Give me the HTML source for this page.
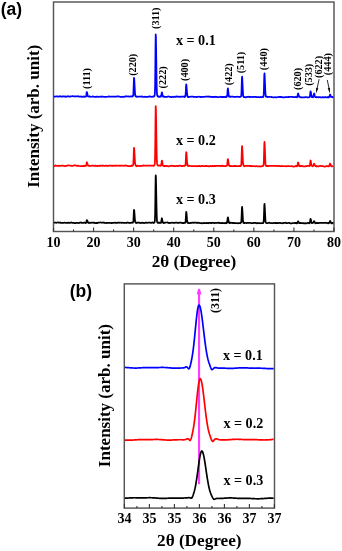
<!DOCTYPE html>
<html><head><meta charset="utf-8"><style>
html,body{margin:0;padding:0;background:#fff;}
body{width:342px;height:551px;overflow:hidden;}
svg{display:block;will-change:transform;}
text{font-family:"Liberation Serif",serif;font-weight:bold;fill:#000;}
.pan{font-family:"Liberation Sans",sans-serif;font-size:17.5px;}
.tk{font-size:14px;}
.ttl{font-size:17.2px;}
.xl{font-size:14.1px;}
</style></head><body>
<svg width="342" height="551" viewBox="0 0 342 551">
<rect width="342" height="551" fill="#fff"/>
<text x="0.7" y="14.5" class="pan">(a)</text>
<text x="69.8" y="297.2" class="pan">(b)</text>
<rect x="53.5" y="2.0" width="280.5" height="229.5" fill="none" stroke="#555" stroke-width="1.45"/>
<path d="M53.5,231.5 v-4 M73.53,231.5 v-2 M93.57,231.5 v-4 M113.6,231.5 v-2 M133.64,231.5 v-4 M153.68,231.5 v-2 M173.71,231.5 v-4 M193.74,231.5 v-2 M213.78,231.5 v-4 M233.81,231.5 v-2 M253.85,231.5 v-4 M273.88,231.5 v-2 M293.92,231.5 v-4 M313.95,231.5 v-2 M333.99,231.5 v-4" stroke="#333" stroke-width="1.1" fill="none"/>
<text x="53.5" y="246.8" class="tk" text-anchor="middle">10</text>
<text x="93.57" y="246.8" class="tk" text-anchor="middle">20</text>
<text x="133.64" y="246.8" class="tk" text-anchor="middle">30</text>
<text x="173.71" y="246.8" class="tk" text-anchor="middle">40</text>
<text x="213.78" y="246.8" class="tk" text-anchor="middle">50</text>
<text x="253.85" y="246.8" class="tk" text-anchor="middle">60</text>
<text x="293.92" y="246.8" class="tk" text-anchor="middle">70</text>
<text x="333.99" y="246.8" class="tk" text-anchor="middle">80</text>
<text x="193.9" y="267.1" class="ttl" text-anchor="middle">2θ (Degree)</text>
<text transform="translate(39.35,116.3) rotate(-90)" class="ttl" style="font-size:17px" text-anchor="middle">Intensity (arb. unit)</text>
<path d="M53.8,96.3 L54.5,96.59 L55.2,96.69 L55.9,96.47 L56.6,96.48 L57.3,96.47 L58,96.57 L58.7,96.7 L59.4,96.39 L60.1,96.19 L60.8,96.54 L61.5,96.49 L62.2,96.65 L62.9,96.31 L63.6,96.39 L64.3,96.58 L65,96.41 L65.7,96.71 L66.4,96.84 L67.1,96.43 L67.8,96.22 L68.5,96.4 L69.2,96.71 L69.9,96.56 L70.6,96.4 L71.3,96.43 L72,96.23 L72.7,96.23 L73.4,96.36 L74.1,96.45 L74.8,96.36 L75.5,96.31 L76.2,96.28 L76.9,96.4 L77.6,96.36 L78.3,96.2 L79,96.57 L79.7,96.6 L80.4,96.66 L81.1,96.44 L81.8,96.77 L82.5,96.87 L83.2,96.51 L83.9,96.44 L84.1,96.62 L84.3,96.7 L84.5,96.87 L84.7,96.67 L84.9,96.79 L85.1,96.75 L85.3,96.53 L85.5,96.57 L85.7,96.73 L85.9,96.71 L86.1,96.27 L86.3,95.43 L86.5,93.69 L86.7,92.19 L86.9,92.05 L87.1,92.61 L87.3,93.34 L87.5,94.43 L87.7,95.5 L87.9,96.21 L88.1,96.38 L88.3,96.46 L88.5,96.52 L88.7,96.69 L88.9,96.64 L89.1,96.54 L89.3,96.55 L89.5,96.3 L89.7,96.19 L89.9,96.49 L90.6,96.81 L91.3,96.75 L92,96.61 L92.7,96.42 L93.4,96.51 L94.1,96.82 L94.8,96.86 L95.5,96.75 L96.2,96.88 L96.9,96.6 L97.6,96.61 L98.3,96.86 L99,96.78 L99.7,96.67 L100.4,96.52 L101.1,96.59 L101.8,96.86 L102.5,96.47 L103.2,96.7 L103.9,96.84 L104.6,96.95 L105.3,96.92 L106,96.95 L106.7,96.8 L107.4,96.75 L108.1,96.65 L108.8,96.4 L109.5,96.72 L110.2,96.72 L110.9,96.52 L111.6,96.58 L112.3,96.61 L113,96.55 L113.7,96.51 L114.4,96.6 L115.1,96.7 L115.8,96.74 L116.5,96.67 L117.2,96.41 L117.9,96.38 L118.6,96.34 L119.3,96.55 L120,96.8 L120.7,96.9 L121.4,96.95 L122.1,96.98 L122.8,96.69 L123.5,96.87 L124.2,96.86 L124.9,96.54 L125.6,96.34 L126.3,96.24 L127,96.59 L127.7,96.49 L128.4,96.37 L129.1,96.58 L129.8,96.53 L130.5,96.35 L131.2,96.29 L131.4,96.47 L131.6,96.35 L131.8,96.34 L132,96.57 L132.2,96.53 L132.4,96.41 L132.6,96.41 L132.8,96.11 L133,96 L133.2,95.38 L133.4,93.14 L133.6,88.32 L133.8,82.18 L134,77.8 L134.2,78.44 L134.4,82.04 L134.6,86.09 L134.8,89.83 L135,93.04 L135.2,94.98 L135.4,96.09 L135.6,96.19 L135.8,96.5 L136,96.64 L136.2,96.65 L136.4,96.48 L136.6,96.82 L136.8,96.89 L137,96.78 L137.2,96.56 L137.9,96.71 L138.6,96.64 L139.3,96.71 L140,96.61 L140.7,96.73 L141.4,96.47 L142.1,96.48 L142.8,96.85 L143.5,96.99 L144.2,96.74 L144.9,96.92 L145.6,96.71 L146.3,96.95 L147,96.96 L147.7,96.79 L148.4,96.61 L149.1,96.38 L149.8,96.74 L150.5,96.45 L151.2,96.72 L151.9,96.92 L152.6,96.76 L153.3,96.39 L153.5,96.6 L153.7,96.72 L153.9,96.58 L154.1,96.34 L154.3,96.05 L154.5,95.71 L154.7,94.95 L154.9,92.91 L155.1,85.85 L155.3,70.16 L155.5,48.58 L155.7,34.48 L155.9,37.07 L156.1,48.54 L156.3,61.21 L156.5,74.92 L156.7,86.18 L156.9,92.22 L157.1,94.73 L157.3,95.58 L157.5,96.24 L157.7,96.46 L157.9,96.36 L158.1,96.26 L158.3,96.48 L158.5,96.7 L158.7,96.87 L158.9,96.64 L159.1,96.83 L159.3,96.83 L159.5,96.72 L159.7,96.94 L159.9,96.64 L160.1,96.76 L160.3,96.47 L160.5,96.37 L160.7,96.7 L160.9,96.42 L161.1,96.34 L161.3,95.59 L161.5,94.37 L161.7,92.79 L161.9,92.28 L162.1,92.8 L162.3,93.93 L162.5,94.86 L162.7,95.94 L162.9,96.61 L163.1,96.53 L163.3,96.67 L163.5,96.48 L163.7,96.35 L163.9,96.3 L164.1,96.72 L164.3,96.88 L164.5,96.99 L164.7,96.78 L164.9,96.83 L165.6,96.95 L166.3,96.79 L167,96.82 L167.7,96.64 L168.4,96.48 L169.1,96.5 L169.8,96.86 L170.5,96.85 L171.2,97.05 L171.9,96.9 L172.6,96.72 L173.3,96.91 L174,97.03 L174.7,96.65 L175.4,96.82 L176.1,96.58 L176.8,96.48 L177.5,96.85 L178.2,96.57 L178.9,96.55 L179.6,96.94 L180.3,96.83 L181,96.6 L181.7,96.52 L182.4,96.51 L183.1,96.78 L183.8,96.55 L184,96.88 L184.2,96.74 L184.4,96.99 L184.6,97.07 L184.8,96.75 L185,96.53 L185.2,96.44 L185.4,95.81 L185.6,94.62 L185.8,91.28 L186,86.86 L186.2,84.47 L186.4,84.86 L186.6,87.23 L186.8,89.74 L187,92.33 L187.2,94.37 L187.4,96.03 L187.6,96.77 L187.8,97.05 L188,96.69 L188.2,96.57 L188.4,96.73 L188.6,97.02 L188.8,96.93 L189,96.97 L189.2,96.97 L189.4,96.76 L190.1,96.82 L190.8,96.72 L191.5,96.64 L192.2,96.51 L192.9,96.55 L193.6,96.97 L194.3,96.88 L195,96.95 L195.7,96.98 L196.4,97.16 L197.1,96.95 L197.8,96.8 L198.5,96.73 L199.2,96.7 L199.9,96.97 L200.6,97.13 L201.3,96.89 L202,96.79 L202.7,96.85 L203.4,96.91 L204.1,96.94 L204.8,96.77 L205.5,96.56 L206.2,96.58 L206.9,96.5 L207.6,96.72 L208.3,96.57 L209,96.49 L209.7,96.77 L210.4,96.71 L211.1,96.96 L211.8,96.92 L212.5,97.11 L213.2,96.81 L213.9,96.86 L214.6,97.04 L215.3,96.74 L216,97.07 L216.7,96.81 L217.4,97.01 L218.1,97.23 L218.8,97.24 L219.5,96.98 L220.2,96.73 L220.9,96.83 L221.6,97.1 L222.3,96.89 L223,97.12 L223.7,96.82 L224.4,97.09 L225.1,96.73 L225.3,96.71 L225.5,97.02 L225.7,97.11 L225.9,97.21 L226.1,97.22 L226.3,97.16 L226.5,97.08 L226.7,96.73 L226.9,96.56 L227.1,95.86 L227.3,94.64 L227.5,92.16 L227.7,89.35 L227.9,88.39 L228.1,89.92 L228.3,91.65 L228.5,93.31 L228.7,94.93 L228.9,96.25 L229.1,96.67 L229.3,96.76 L229.5,96.74 L229.7,96.68 L229.9,96.52 L230.1,96.79 L230.3,96.8 L230.5,96.89 L230.7,96.66 L230.9,96.71 L231.6,96.62 L232.3,96.57 L233,96.62 L233.7,96.96 L234.4,96.89 L235.1,96.86 L235.8,96.96 L236.5,96.8 L237.2,96.59 L237.9,96.77 L238.6,96.84 L239.3,96.94 L239.5,96.87 L239.7,96.97 L239.9,97.03 L240.1,96.78 L240.3,96.77 L240.5,96.74 L240.7,96.54 L240.9,96.45 L241.1,96.17 L241.3,95.09 L241.5,91.68 L241.7,85.11 L241.9,78.75 L242.1,76.57 L242.3,79.2 L242.5,83.33 L242.7,87.88 L242.9,91.73 L243.1,94.79 L243.3,96.34 L243.5,96.59 L243.7,96.84 L243.9,97.03 L244.1,96.88 L244.3,96.99 L244.5,97.07 L244.7,97.04 L244.9,97.17 L245.1,97.26 L245.8,97.37 L246.5,97.2 L247.2,96.91 L247.9,96.8 L248.6,96.73 L249.3,96.89 L250,97.08 L250.7,96.79 L251.4,96.99 L252.1,97.11 L252.8,96.96 L253.5,96.99 L254.2,96.8 L254.9,97.03 L255.6,96.76 L256.3,97.14 L257,97.24 L257.7,97.19 L258.4,96.96 L259.1,97.2 L259.8,97.34 L260.5,96.96 L261.2,97.1 L261.9,97.19 L262.1,97.13 L262.3,97.11 L262.5,96.95 L262.7,97.11 L262.9,97.18 L263.1,96.85 L263.3,96.8 L263.5,96.2 L263.7,94.41 L263.9,90.18 L264.1,82.6 L264.3,75.36 L264.5,73.34 L264.7,76.27 L264.9,81.05 L265.1,86.05 L265.3,90.73 L265.5,94.11 L265.7,95.72 L265.9,96.56 L266.1,96.46 L266.3,96.5 L266.5,96.67 L266.7,96.53 L266.9,96.8 L267.1,96.93 L267.3,97.13 L267.5,96.89 L268.2,96.83 L268.9,96.95 L269.6,96.86 L270.3,96.99 L271,96.87 L271.7,97.06 L272.4,97.21 L273.1,97.29 L273.8,97.43 L274.5,97.26 L275.2,97.15 L275.9,97.3 L276.6,97.32 L277.3,97.23 L278,97.08 L278.7,96.95 L279.4,96.79 L280.1,97.1 L280.8,96.87 L281.5,97.11 L282.2,97.11 L282.9,97.35 L283.6,97.35 L284.3,97.48 L285,97.08 L285.7,97.08 L286.4,97.12 L287.1,97 L287.8,97.04 L288.5,96.99 L289.2,97.05 L289.9,96.8 L290.6,96.91 L291.3,96.97 L292,96.93 L292.7,96.95 L293.4,97.18 L294.1,97.24 L294.8,97.16 L295.5,97.2 L295.7,97.08 L295.9,96.92 L296.1,96.72 L296.3,96.77 L296.5,96.97 L296.7,97.22 L296.9,97.3 L297.1,97.1 L297.3,97.05 L297.5,96.2 L297.7,95.14 L297.9,93.76 L298.1,93.5 L298.3,94.2 L298.5,94.66 L298.7,95.24 L298.9,96.15 L299.1,96.7 L299.3,96.87 L299.5,96.73 L299.7,96.85 L299.9,96.93 L300.1,96.96 L300.3,97.23 L300.5,97.21 L300.7,97.28 L300.9,97.41 L301.1,97.4 L301.8,97.25 L302.5,97.32 L303.2,97.3 L303.9,97.29 L304.6,97.28 L305.3,97.15 L306,97.2 L306.7,97.23 L307.4,97.41 L308.1,97.41 L308.3,97.45 L308.5,97.42 L308.7,97.42 L308.9,97.3 L309.1,97.1 L309.3,96.93 L309.5,97.04 L309.7,97 L309.9,96.24 L310.1,94.5 L310.3,92.71 L310.5,91.27 L310.7,91.48 L310.9,92.31 L311.1,93.65 L311.3,95.12 L311.5,96.09 L311.7,96.63 L311.9,97 L312.1,96.79 L312.3,96.94 L312.5,97.25 L312.7,97.26 L312.9,97.09 L313.1,97.11 L313.3,96.88 L313.5,96.03 L313.7,94.81 L313.9,93.99 L314.1,93.48 L314.3,93.78 L314.5,94.8 L314.7,95.54 L314.9,96.18 L315.1,96.72 L315.3,97.11 L315.5,96.95 L315.7,97.13 L315.9,97.24 L316.1,97.36 L316.3,97.12 L316.5,97.19 L316.7,97.02 L316.9,97.11 L317.1,96.95 L317.8,97.21 L318.5,97.39 L319.2,97.18 L319.9,97.02 L320.6,97.35 L321.3,97.37 L322,97.46 L322.7,97.06 L323.4,97.33 L324.1,97.32 L324.8,97.15 L325.5,97.12 L326.2,97.29 L326.9,97.39 L327.6,97.11 L327.8,97.21 L328,97 L328.2,97.34 L328.4,97.22 L328.6,97.41 L328.8,97.4 L329,97.31 L329.2,96.99 L329.4,96.74 L329.6,95.9 L329.8,94.92 L330,94.6 L330.2,94.65 L330.4,95.3 L330.6,95.64 L330.8,96.36 L331,96.9 L331.2,96.98 L331.4,96.89 L331.6,96.98 L331.8,97.08 L332,96.91 L332.2,96.87 L332.4,96.78 L332.6,97.04 L332.8,97.33 L333,97.1 L333.2,96.89" stroke="#0000ff" stroke-width="1.75" fill="none" stroke-linejoin="round"/>
<path d="M53.8,165.95 L54.5,166.07 L55.2,165.64 L55.9,165.45 L56.6,165.76 L57.3,165.86 L58,165.88 L58.7,165.69 L59.4,165.76 L60.1,165.79 L60.8,165.8 L61.5,165.57 L62.2,165.6 L62.9,165.6 L63.6,165.78 L64.3,166.02 L65,166.12 L65.7,165.94 L66.4,165.8 L67.1,165.64 L67.8,165.43 L68.5,165.32 L69.2,165.5 L69.9,165.52 L70.6,165.56 L71.3,165.86 L72,165.81 L72.7,165.81 L73.4,165.63 L74.1,165.42 L74.8,165.48 L75.5,165.41 L76.2,165.58 L76.9,165.94 L77.6,165.93 L78.3,165.66 L79,165.92 L79.7,166 L80.4,166 L81.1,166.1 L81.8,166.07 L82.5,166.07 L83.2,165.82 L83.9,166.05 L84.1,166.15 L84.3,165.76 L84.5,165.89 L84.7,165.93 L84.9,165.81 L85.1,165.78 L85.3,165.74 L85.5,165.95 L85.7,165.81 L85.9,165.87 L86.1,165.43 L86.3,164.99 L86.5,163.98 L86.7,162.66 L86.9,162.29 L87.1,162.95 L87.3,163.63 L87.5,164.25 L87.7,164.76 L87.9,165.22 L88.1,165.64 L88.3,165.52 L88.5,165.86 L88.7,165.67 L88.9,165.93 L89.1,165.73 L89.3,165.99 L89.5,165.99 L89.7,165.87 L89.9,165.82 L90.6,165.88 L91.3,165.87 L92,165.71 L92.7,165.58 L93.4,165.68 L94.1,165.96 L94.8,165.94 L95.5,165.62 L96.2,165.87 L96.9,165.95 L97.6,166.09 L98.3,165.76 L99,165.91 L99.7,165.6 L100.4,165.78 L101.1,165.66 L101.8,165.57 L102.5,165.88 L103.2,165.62 L103.9,165.72 L104.6,165.95 L105.3,165.73 L106,165.6 L106.7,165.91 L107.4,165.81 L108.1,165.92 L108.8,165.6 L109.5,165.62 L110.2,165.53 L110.9,165.76 L111.6,165.55 L112.3,165.93 L113,165.61 L113.7,165.83 L114.4,165.56 L115.1,165.55 L115.8,165.85 L116.5,165.64 L117.2,165.55 L117.9,165.79 L118.6,165.74 L119.3,165.52 L120,165.94 L120.7,165.69 L121.4,165.5 L122.1,165.57 L122.8,165.76 L123.5,165.92 L124.2,165.66 L124.9,165.65 L125.6,165.48 L126.3,165.62 L127,165.87 L127.7,165.97 L128.4,166.11 L129.1,166.1 L129.8,166.15 L130.5,166.08 L131.2,165.91 L131.4,165.68 L131.6,165.8 L131.8,165.67 L132,165.47 L132.2,165.55 L132.4,165.8 L132.6,165.49 L132.8,165.54 L133,165.3 L133.2,164.7 L133.4,162.48 L133.6,158.33 L133.8,151.9 L134,147.83 L134.2,148.54 L134.4,151.6 L134.6,155.46 L134.8,159.22 L135,162.32 L135.2,164.12 L135.4,164.91 L135.6,165.14 L135.8,165.51 L136,165.63 L136.2,165.95 L136.4,166.1 L136.6,166.21 L136.8,165.85 L137,165.79 L137.2,165.66 L137.9,165.79 L138.6,165.88 L139.3,166.02 L140,166.04 L140.7,165.81 L141.4,165.78 L142.1,165.83 L142.8,165.56 L143.5,165.45 L144.2,165.6 L144.9,165.51 L145.6,165.8 L146.3,165.68 L147,165.54 L147.7,165.51 L148.4,165.52 L149.1,165.52 L149.8,165.68 L150.5,165.72 L151.2,165.64 L151.9,165.77 L152.6,165.56 L153.3,165.77 L153.5,165.91 L153.7,165.81 L153.9,165.56 L154.1,165.41 L154.3,165.28 L154.5,164.75 L154.7,164.2 L154.9,162.14 L155.1,155.24 L155.3,140.19 L155.5,119.91 L155.7,106.06 L155.9,108.68 L156.1,119.87 L156.3,132.04 L156.5,144.75 L156.7,155.7 L156.9,161.69 L157.1,163.92 L157.3,164.94 L157.5,165 L157.7,165.15 L157.9,165.55 L158.1,165.67 L158.3,165.39 L158.5,165.51 L158.7,165.55 L158.9,165.63 L159.1,165.52 L159.3,165.68 L159.5,165.48 L159.7,165.5 L159.9,165.56 L160.1,165.9 L160.3,165.59 L160.5,165.81 L160.7,165.58 L160.9,165.6 L161.1,165.23 L161.3,164.36 L161.5,162.96 L161.7,161.24 L161.9,160.56 L162.1,161.16 L162.3,162.08 L162.5,163.54 L162.7,164.65 L162.9,165.58 L163.1,165.89 L163.3,165.63 L163.5,165.82 L163.7,165.98 L163.9,166.04 L164.1,165.94 L164.3,165.82 L164.5,165.81 L164.7,166 L164.9,165.81 L165.6,165.86 L166.3,165.86 L167,166.12 L167.7,166.17 L168.4,166.27 L169.1,166.27 L169.8,165.97 L170.5,165.79 L171.2,165.84 L171.9,165.74 L172.6,165.78 L173.3,165.94 L174,166.15 L174.7,166.08 L175.4,166.17 L176.1,165.82 L176.8,165.79 L177.5,166.12 L178.2,165.82 L178.9,165.82 L179.6,165.63 L180.3,165.54 L181,165.94 L181.7,166.19 L182.4,166.13 L183.1,165.8 L183.8,165.71 L184,165.63 L184.2,165.83 L184.4,165.92 L184.6,165.82 L184.8,165.79 L185,165.52 L185.2,165.5 L185.4,165.29 L185.6,163.77 L185.8,159.98 L186,155.27 L186.2,152.23 L186.4,152.64 L186.6,155.43 L186.8,158.14 L187,161.21 L187.2,163.55 L187.4,165.24 L187.6,165.83 L187.8,165.91 L188,165.69 L188.2,165.74 L188.4,165.54 L188.6,165.76 L188.8,166.03 L189,165.79 L189.2,165.85 L189.4,165.87 L190.1,165.85 L190.8,166.01 L191.5,166.21 L192.2,166.19 L192.9,166.05 L193.6,166.25 L194.3,166 L195,166.11 L195.7,166.12 L196.4,166.18 L197.1,166.26 L197.8,165.96 L198.5,166.02 L199.2,165.94 L199.9,166.04 L200.6,166.26 L201.3,166.19 L202,165.81 L202.7,165.87 L203.4,166.03 L204.1,166.21 L204.8,166.17 L205.5,166.24 L206.2,165.84 L206.9,166.15 L207.6,166.19 L208.3,166.14 L209,166.28 L209.7,166.34 L210.4,165.94 L211.1,166.13 L211.8,166.2 L212.5,165.93 L213.2,166.09 L213.9,166.08 L214.6,165.87 L215.3,166.09 L216,165.84 L216.7,165.98 L217.4,165.95 L218.1,165.83 L218.8,165.95 L219.5,165.95 L220.2,165.81 L220.9,166.16 L221.6,165.84 L222.3,165.64 L223,165.81 L223.7,166.08 L224.4,166.12 L225.1,166.19 L225.3,166.07 L225.5,166.12 L225.7,165.95 L225.9,165.82 L226.1,165.88 L226.3,165.64 L226.5,165.54 L226.7,165.82 L226.9,165.53 L227.1,165.3 L227.3,164.19 L227.5,161.82 L227.7,159.62 L227.9,159.06 L228.1,160.13 L228.3,161.18 L228.5,162.53 L228.7,164.02 L228.9,165.1 L229.1,165.53 L229.3,165.51 L229.5,165.78 L229.7,166.13 L229.9,165.98 L230.1,166 L230.3,165.92 L230.5,165.92 L230.7,166.16 L230.9,165.97 L231.6,166.07 L232.3,166.03 L233,166.04 L233.7,166.25 L234.4,165.9 L235.1,166.13 L235.8,165.96 L236.5,166.06 L237.2,166.19 L237.9,166.18 L238.6,166.02 L239.3,166.17 L239.5,165.83 L239.7,165.95 L239.9,165.87 L240.1,165.89 L240.3,166.06 L240.5,166.09 L240.7,165.98 L240.9,165.65 L241.1,165.14 L241.3,163.89 L241.5,160.32 L241.7,154.14 L241.9,148.22 L242.1,146.09 L242.3,149.05 L242.5,152.8 L242.7,156.92 L242.9,160.88 L243.1,163.51 L243.3,164.99 L243.5,165.37 L243.7,165.62 L243.9,165.65 L244.1,166.01 L244.3,166.21 L244.5,166.05 L244.7,166.09 L244.9,166.27 L245.1,166.03 L245.8,165.81 L246.5,165.77 L247.2,165.73 L247.9,165.98 L248.6,165.94 L249.3,165.91 L250,166.14 L250.7,165.94 L251.4,166.16 L252.1,166.18 L252.8,166.06 L253.5,166.23 L254.2,166.05 L254.9,166.26 L255.6,166.39 L256.3,166.22 L257,166.24 L257.7,166.39 L258.4,166.35 L259.1,166.33 L259.8,166.38 L260.5,166.44 L261.2,166.36 L261.9,166.41 L262.1,166.07 L262.3,166.06 L262.5,166.07 L262.7,165.89 L262.9,165.78 L263.1,165.56 L263.3,165.77 L263.5,165.16 L263.7,163.58 L263.9,159.58 L264.1,151.81 L264.3,144.46 L264.5,141.9 L264.7,144.99 L264.9,149.77 L265.1,154.9 L265.3,160.11 L265.5,163.65 L265.7,165.3 L265.9,165.7 L266.1,165.85 L266.3,165.75 L266.5,166.03 L266.7,165.94 L266.9,165.84 L267.1,165.99 L267.3,165.81 L267.5,165.81 L268.2,166.17 L268.9,165.89 L269.6,165.78 L270.3,165.77 L271,165.78 L271.7,165.89 L272.4,165.85 L273.1,165.88 L273.8,165.84 L274.5,165.82 L275.2,166.02 L275.9,165.97 L276.6,165.96 L277.3,166.18 L278,165.9 L278.7,165.8 L279.4,166.14 L280.1,166.08 L280.8,166.25 L281.5,165.97 L282.2,166.05 L282.9,166.27 L283.6,166.1 L284.3,166.25 L285,166.24 L285.7,166.12 L286.4,166.39 L287.1,166.19 L287.8,166.14 L288.5,166.19 L289.2,166.06 L289.9,166.27 L290.6,166.25 L291.3,166.23 L292,166.2 L292.7,166.43 L293.4,166.54 L294.1,166.52 L294.8,166.29 L295.5,166.16 L295.7,166.15 L295.9,165.88 L296.1,165.78 L296.3,166.21 L296.5,165.95 L296.7,166.25 L296.9,166.25 L297.1,166.32 L297.3,165.71 L297.5,165.05 L297.7,164.23 L297.9,162.84 L298.1,162.42 L298.3,162.97 L298.5,163.57 L298.7,164.25 L298.9,165.2 L299.1,165.49 L299.3,166.11 L299.5,166.21 L299.7,165.92 L299.9,166.24 L300.1,166.04 L300.3,166.07 L300.5,166.13 L300.7,165.93 L300.9,166.03 L301.1,165.84 L301.8,165.82 L302.5,166.21 L303.2,166.35 L303.9,166.26 L304.6,166.3 L305.3,166.43 L306,166.09 L306.7,166.11 L307.4,165.92 L308.1,165.81 L308.3,165.75 L308.5,165.77 L308.7,165.69 L308.9,165.74 L309.1,165.84 L309.3,166.01 L309.5,166.18 L309.7,166.11 L309.9,165.44 L310.1,163.91 L310.3,162.13 L310.5,160.5 L310.7,160.54 L310.9,161.86 L311.1,163.05 L311.3,164.06 L311.5,165.05 L311.7,165.58 L311.9,165.86 L312.1,165.95 L312.3,165.97 L312.5,166.2 L312.7,166.32 L312.9,166.23 L313.1,166.1 L313.3,165.78 L313.5,165.52 L313.7,164.94 L313.9,163.81 L314.1,163.68 L314.3,164.09 L314.5,164.6 L314.7,164.8 L314.9,165.44 L315.1,165.67 L315.3,165.78 L315.5,166.02 L315.7,166.16 L315.9,166.22 L316.1,166.32 L316.3,166.35 L316.5,166.24 L316.7,165.95 L316.9,166.2 L317.1,166.36 L317.8,166.45 L318.5,166.36 L319.2,166.01 L319.9,165.93 L320.6,165.83 L321.3,166.08 L322,166.15 L322.7,165.99 L323.4,166.34 L324.1,166.52 L324.8,166.57 L325.5,166.36 L326.2,166.15 L326.9,166.01 L327.6,166.27 L327.8,166.33 L328,166.13 L328.2,166.37 L328.4,166.3 L328.6,166.18 L328.8,166.11 L329,166.23 L329.2,166.06 L329.4,165.84 L329.6,164.95 L329.8,164.25 L330,163.52 L330.2,163.91 L330.4,164.14 L330.6,164.61 L330.8,165.25 L331,165.67 L331.2,165.99 L331.4,166.34 L331.6,166.1 L331.8,166.29 L332,166.34 L332.2,166.42 L332.4,166.27 L332.6,166.21 L332.8,166.11 L333,166.14 L333.2,166.03" stroke="#ff0000" stroke-width="1.75" fill="none" stroke-linejoin="round"/>
<path d="M53.8,222.56 L54.5,222.65 L55.2,222.61 L55.9,222.71 L56.6,222.78 L57.3,222.5 L58,222.34 L58.7,222.71 L59.4,222.58 L60.1,222.5 L60.8,222.88 L61.5,222.78 L62.2,222.93 L62.9,222.81 L63.6,222.84 L64.3,222.59 L65,222.73 L65.7,222.93 L66.4,222.84 L67.1,222.91 L67.8,222.91 L68.5,222.58 L69.2,222.8 L69.9,222.81 L70.6,222.66 L71.3,222.44 L72,222.79 L72.7,222.75 L73.4,222.86 L74.1,223.01 L74.8,222.99 L75.5,223.1 L76.2,222.86 L76.9,222.97 L77.6,222.82 L78.3,223.02 L79,223.09 L79.7,222.7 L80.4,222.52 L81.1,222.48 L81.8,222.87 L82.5,222.77 L83.2,222.83 L83.9,222.68 L84.1,222.71 L84.3,222.66 L84.5,222.62 L84.7,222.72 L84.9,222.77 L85.1,222.97 L85.3,222.95 L85.5,223.06 L85.7,223.07 L85.9,223.1 L86.1,222.76 L86.3,221.87 L86.5,221.13 L86.7,220.31 L86.9,220.07 L87.1,220.33 L87.3,220.94 L87.5,221.31 L87.7,222.14 L87.9,222.54 L88.1,222.57 L88.3,222.43 L88.5,222.78 L88.7,223.03 L88.9,222.66 L89.1,222.87 L89.3,222.76 L89.5,222.56 L89.7,222.55 L89.9,222.8 L90.6,222.99 L91.3,222.62 L92,222.76 L92.7,222.51 L93.4,222.76 L94.1,222.67 L94.8,222.93 L95.5,223.12 L96.2,222.95 L96.9,223.14 L97.6,222.85 L98.3,222.58 L99,222.74 L99.7,222.5 L100.4,222.48 L101.1,222.58 L101.8,222.74 L102.5,222.58 L103.2,222.43 L103.9,222.81 L104.6,222.7 L105.3,223 L106,223.11 L106.7,222.89 L107.4,222.82 L108.1,222.82 L108.8,222.89 L109.5,222.9 L110.2,222.88 L110.9,222.91 L111.6,223.1 L112.3,222.95 L113,222.84 L113.7,222.95 L114.4,222.73 L115.1,222.66 L115.8,223 L116.5,222.92 L117.2,222.89 L117.9,222.58 L118.6,222.65 L119.3,222.78 L120,222.53 L120.7,222.74 L121.4,222.85 L122.1,222.59 L122.8,222.78 L123.5,222.78 L124.2,222.9 L124.9,222.78 L125.6,222.91 L126.3,223 L127,222.65 L127.7,222.49 L128.4,222.75 L129.1,223.04 L129.8,222.79 L130.5,222.77 L131.2,222.83 L131.4,222.71 L131.6,222.67 L131.8,222.61 L132,222.61 L132.2,222.72 L132.4,222.6 L132.6,222.56 L132.8,222.72 L133,222.29 L133.2,221.96 L133.4,220.64 L133.6,217.22 L133.8,212.57 L134,209.8 L134.2,210.19 L134.4,212.47 L134.6,215.23 L134.8,218.25 L135,220.35 L135.2,221.71 L135.4,222.27 L135.6,222.73 L135.8,222.71 L136,222.93 L136.2,222.67 L136.4,222.64 L136.6,222.8 L136.8,223.01 L137,222.88 L137.2,222.7 L137.9,222.56 L138.6,222.71 L139.3,222.61 L140,222.89 L140.7,223.05 L141.4,222.78 L142.1,222.69 L142.8,222.94 L143.5,222.97 L144.2,223.08 L144.9,222.88 L145.6,222.66 L146.3,222.64 L147,222.9 L147.7,222.75 L148.4,222.71 L149.1,222.73 L149.8,222.73 L150.5,222.72 L151.2,222.99 L151.9,222.69 L152.6,222.43 L153.3,222.76 L153.5,222.89 L153.7,222.99 L153.9,222.7 L154.1,222.78 L154.3,222.74 L154.5,222.2 L154.7,221.82 L154.9,220.23 L155.1,214.84 L155.3,202.92 L155.5,186.41 L155.7,175.44 L155.9,177.38 L156.1,185.92 L156.3,195.82 L156.5,205.99 L156.7,214.7 L156.9,219.31 L157.1,221.63 L157.3,222.31 L157.5,222.68 L157.7,222.85 L157.9,222.96 L158.1,222.86 L158.3,222.51 L158.5,222.75 L158.7,222.56 L158.9,222.55 L159.1,222.74 L159.3,222.77 L159.5,222.73 L159.7,223 L159.9,222.95 L160.1,222.78 L160.3,222.64 L160.5,222.9 L160.7,222.8 L160.9,222.85 L161.1,222.39 L161.3,221.44 L161.5,220.15 L161.7,218.94 L161.9,218.27 L162.1,219.1 L162.3,220.16 L162.5,221.13 L162.7,222.06 L162.9,222.26 L163.1,222.69 L163.3,222.99 L163.5,222.67 L163.7,222.63 L163.9,222.62 L164.1,222.75 L164.3,222.76 L164.5,222.8 L164.7,222.99 L164.9,222.65 L165.6,222.52 L166.3,222.5 L167,222.49 L167.7,222.45 L168.4,222.94 L169.1,223.11 L169.8,222.78 L170.5,222.84 L171.2,222.77 L171.9,222.74 L172.6,222.74 L173.3,222.9 L174,222.95 L174.7,222.86 L175.4,222.71 L176.1,222.72 L176.8,222.61 L177.5,222.79 L178.2,222.97 L178.9,222.88 L179.6,222.67 L180.3,222.61 L181,222.69 L181.7,222.86 L182.4,223.04 L183.1,222.9 L183.8,223.05 L184,223.03 L184.2,222.9 L184.4,222.8 L184.6,222.81 L184.8,222.91 L185,222.77 L185.2,222.76 L185.4,222.3 L185.6,220.92 L185.8,218.29 L186,214.68 L186.2,211.9 L186.4,212.42 L186.6,214.43 L186.8,216.92 L187,219.42 L187.2,221.13 L187.4,222.43 L187.6,222.92 L187.8,222.78 L188,222.81 L188.2,222.63 L188.4,222.93 L188.6,223 L188.8,223.16 L189,223.19 L189.2,223.14 L189.4,223.16 L190.1,223.08 L190.8,222.79 L191.5,222.91 L192.2,222.65 L192.9,222.6 L193.6,222.92 L194.3,222.69 L195,222.59 L195.7,222.55 L196.4,222.96 L197.1,222.78 L197.8,222.61 L198.5,222.97 L199.2,222.76 L199.9,223.05 L200.6,223.1 L201.3,223.22 L202,223.34 L202.7,223.2 L203.4,223.24 L204.1,222.85 L204.8,223.06 L205.5,223.02 L206.2,223.11 L206.9,222.83 L207.6,223.04 L208.3,223.25 L209,222.87 L209.7,222.83 L210.4,222.94 L211.1,223.14 L211.8,222.92 L212.5,222.77 L213.2,222.74 L213.9,222.93 L214.6,223.1 L215.3,222.98 L216,222.91 L216.7,222.89 L217.4,222.86 L218.1,222.88 L218.8,222.71 L219.5,222.85 L220.2,223.18 L220.9,223.04 L221.6,223.15 L222.3,222.89 L223,223.05 L223.7,223.16 L224.4,223.17 L225.1,223.08 L225.3,223.02 L225.5,223.08 L225.7,223.24 L225.9,222.91 L226.1,222.71 L226.3,222.96 L226.5,223.17 L226.7,223.03 L226.9,222.83 L227.1,222.57 L227.3,221.35 L227.5,219.54 L227.7,217.7 L227.9,217.36 L228.1,218.06 L228.3,219.07 L228.5,220.46 L228.7,221.85 L228.9,222.4 L229.1,222.88 L229.3,222.91 L229.5,223.14 L229.7,223.1 L229.9,222.91 L230.1,222.79 L230.3,222.63 L230.5,222.8 L230.7,222.83 L230.9,222.73 L231.6,222.79 L232.3,222.8 L233,223.06 L233.7,222.84 L234.4,223.2 L235.1,223.09 L235.8,223.11 L236.5,223.04 L237.2,223.21 L237.9,223.28 L238.6,223.16 L239.3,223.05 L239.5,223.13 L239.7,223.23 L239.9,223.03 L240.1,223.1 L240.3,223.24 L240.5,223.02 L240.7,222.75 L240.9,222.55 L241.1,222.46 L241.3,221.49 L241.5,218.88 L241.7,213.94 L241.9,208.54 L242.1,206.86 L242.3,209 L242.5,212.07 L242.7,215.7 L242.9,219.16 L243.1,221.55 L243.3,222.35 L243.5,222.93 L243.7,222.84 L243.9,222.85 L244.1,223.02 L244.3,222.77 L244.5,222.65 L244.7,223 L244.9,222.88 L245.1,222.86 L245.8,222.99 L246.5,223.1 L247.2,222.8 L247.9,222.83 L248.6,222.9 L249.3,222.96 L250,222.84 L250.7,222.99 L251.4,223.27 L252.1,223.1 L252.8,223.1 L253.5,222.86 L254.2,222.83 L254.9,223.03 L255.6,222.83 L256.3,223.15 L257,223.33 L257.7,222.97 L258.4,223.25 L259.1,223.08 L259.8,223.21 L260.5,223.26 L261.2,223.02 L261.9,223.09 L262.1,223.12 L262.3,223.2 L262.5,222.94 L262.7,223.05 L262.9,223.2 L263.1,223.08 L263.3,222.86 L263.5,222.21 L263.7,221.01 L263.9,217.58 L264.1,211.76 L264.3,205.7 L264.5,203.87 L264.7,206.29 L264.9,210.21 L265.1,214.35 L265.3,218.05 L265.5,221.06 L265.7,222.39 L265.9,222.56 L266.1,223.01 L266.3,222.79 L266.5,222.79 L266.7,223.01 L266.9,223.06 L267.1,223.07 L267.3,223.12 L267.5,223.05 L268.2,222.96 L268.9,222.83 L269.6,222.72 L270.3,223.01 L271,223.19 L271.7,223.16 L272.4,223.25 L273.1,223.09 L273.8,222.96 L274.5,222.96 L275.2,223.23 L275.9,222.91 L276.6,223.01 L277.3,222.91 L278,223.15 L278.7,223.05 L279.4,222.98 L280.1,222.99 L280.8,223.07 L281.5,223.24 L282.2,223.09 L282.9,223.29 L283.6,222.99 L284.3,222.92 L285,222.8 L285.7,222.74 L286.4,223.08 L287.1,223.22 L287.8,223 L288.5,222.89 L289.2,222.96 L289.9,223.17 L290.6,223.32 L291.3,223.36 L292,223.29 L292.7,223.01 L293.4,223.01 L294.1,222.9 L294.8,223.03 L295.5,223.11 L295.7,222.95 L295.9,222.9 L296.1,223.16 L296.3,222.88 L296.5,223.16 L296.7,223.34 L296.9,223.46 L297.1,223.17 L297.3,223.01 L297.5,222.64 L297.7,222.02 L297.9,221.56 L298.1,221.31 L298.3,221.35 L298.5,221.95 L298.7,222.28 L298.9,222.71 L299.1,223.08 L299.3,222.86 L299.5,223.15 L299.7,223.23 L299.9,223.17 L300.1,223.16 L300.3,223.12 L300.5,222.96 L300.7,223.06 L300.9,222.84 L301.1,222.99 L301.8,223.14 L302.5,223.11 L303.2,223.16 L303.9,223.41 L304.6,223.49 L305.3,223.12 L306,223.29 L306.7,223.28 L307.4,222.96 L308.1,222.97 L308.3,222.9 L308.5,222.78 L308.7,222.97 L308.9,223.27 L309.1,223.08 L309.3,223.28 L309.5,223.24 L309.7,222.78 L309.9,222.51 L310.1,221.36 L310.3,219.96 L310.5,218.89 L310.7,219.08 L310.9,219.69 L311.1,220.76 L311.3,221.88 L311.5,222.73 L311.7,222.98 L311.9,223.23 L312.1,223.18 L312.3,222.93 L312.5,222.77 L312.7,222.7 L312.9,222.73 L313.1,222.69 L313.3,222.74 L313.5,222.58 L313.7,221.95 L313.9,221.23 L314.1,221.13 L314.3,221.28 L314.5,221.71 L314.7,222.32 L314.9,222.63 L315.1,222.75 L315.3,223.2 L315.5,223.31 L315.7,223.16 L315.9,223.08 L316.1,223.13 L316.3,223.2 L316.5,223.03 L316.7,222.82 L316.9,222.83 L317.1,223.15 L317.8,222.96 L318.5,223.04 L319.2,222.94 L319.9,222.9 L320.6,222.85 L321.3,222.96 L322,222.89 L322.7,222.77 L323.4,222.76 L324.1,222.79 L324.8,222.98 L325.5,222.84 L326.2,222.75 L326.9,222.94 L327.6,223.01 L327.8,223.2 L328,222.94 L328.2,223 L328.4,223.03 L328.6,222.84 L328.8,223.25 L329,223.03 L329.2,222.79 L329.4,222.68 L329.6,222.05 L329.8,221.54 L330,221.01 L330.2,220.95 L330.4,221.21 L330.6,221.95 L330.8,222.31 L331,222.91 L331.2,223.07 L331.4,223.38 L331.6,223.18 L331.8,223.04 L332,222.99 L332.2,223.26 L332.4,223.29 L332.6,223.16 L332.8,222.95 L333,223.17 L333.2,223.44" stroke="#000" stroke-width="1.75" fill="none" stroke-linejoin="round"/>
<text x="176" y="44.8" class="xl">x = 0.1</text>
<text x="176" y="144.8" class="xl">x = 0.2</text>
<text x="176" y="204.3" class="xl">x = 0.3</text>
<text transform="translate(90.2,89) rotate(-90)" style="font-size:10.2px">(111)</text>
<text transform="translate(136.3,75.8) rotate(-90)" style="font-size:10.2px">(220)</text>
<text transform="translate(159,29) rotate(-90)" style="font-size:10.2px">(311)</text>
<text transform="translate(166.3,88.4) rotate(-90)" style="font-size:10.2px">(222)</text>
<text transform="translate(188.4,81) rotate(-90)" style="font-size:10.2px">(400)</text>
<text transform="translate(232.3,85.3) rotate(-90)" style="font-size:10.2px">(422)</text>
<text transform="translate(244,73.3) rotate(-90)" style="font-size:10.2px">(511)</text>
<text transform="translate(266.8,70.2) rotate(-90)" style="font-size:10.2px">(440)</text>
<text transform="translate(301.3,90) rotate(-90)" style="font-size:10.2px">(620)</text>
<text transform="translate(312.2,85.8) rotate(-90)" style="font-size:10.2px">(533)</text>
<text transform="translate(321.8,78) rotate(-90)" style="font-size:10.2px">(622)</text>
<text transform="translate(331.2,75.2) rotate(-90)" style="font-size:10.2px">(444)</text>
<path d="M319.1,79.2 L317,89 M327.3,80 L329.1,89" stroke="#111" stroke-width="0.9" fill="none"/>
<path d="M316.1,93.4 L318.4,88.25 L316.0,87.75 Z M329.9,93.4 L330.04,87.77 L327.68,88.23 Z" fill="#111"/>
<rect x="124.3" y="283.9" width="150.2" height="224.2" fill="none" stroke="#555" stroke-width="1.45"/>
<path d="M124.4,508.1 v-4 M136.9,508.1 v-2.2 M149.4,508.1 v-4 M161.9,508.1 v-2.2 M174.4,508.1 v-4 M186.9,508.1 v-2.2 M199.4,508.1 v-4 M211.9,508.1 v-2.2 M224.4,508.1 v-4 M236.9,508.1 v-2.2 M249.4,508.1 v-4 M261.9,508.1 v-2.2 M274.4,508.1 v-4" stroke="#333" stroke-width="1.1" fill="none"/>
<text x="124.4" y="522.6" class="tk" text-anchor="middle">34</text>
<text x="149.4" y="522.6" class="tk" text-anchor="middle">35</text>
<text x="174.4" y="522.6" class="tk" text-anchor="middle">35</text>
<text x="199.4" y="522.6" class="tk" text-anchor="middle">36</text>
<text x="224.4" y="522.6" class="tk" text-anchor="middle">36</text>
<text x="249.4" y="522.6" class="tk" text-anchor="middle">37</text>
<text x="274.4" y="522.6" class="tk" text-anchor="middle">37</text>
<text x="199.3" y="546.3" class="ttl" text-anchor="middle">2θ (Degree)</text>
<text transform="translate(110.35,395.6) rotate(-90)" class="ttl" style="font-size:17px" text-anchor="middle">Intensity (arb. unit)</text>
<path d="M199.05,294 V484.2" stroke="#ff3cff" stroke-width="2.1" fill="none"/>
<path d="M198.2,288.8 L199.9,288.8 L201.2,293.6 L200.2,295 L197.9,295 L196.9,293.6 Z" fill="#ff3cff"/>
<path d="M124.9,367.45 L125.3,367.46 L125.7,367.48 L126.1,367.5 L126.5,367.52 L126.9,367.55 L127.3,367.57 L127.7,367.6 L128.1,367.63 L128.5,367.66 L128.9,367.69 L129.3,367.73 L129.7,367.76 L130.1,367.79 L130.5,367.82 L130.9,367.85 L131.3,367.88 L131.7,367.91 L132.1,367.94 L132.5,367.96 L132.9,367.98 L133.3,368 L133.7,368.02 L134.1,368.03 L134.5,368.04 L134.9,368.04 L135.3,368.05 L135.7,368.05 L136.1,368.04 L136.5,368.04 L136.9,368.03 L137.3,368.01 L137.7,368 L138.1,367.98 L138.5,367.96 L138.9,367.94 L139.3,367.92 L139.7,367.89 L140.1,367.87 L140.5,367.84 L140.9,367.82 L141.3,367.79 L141.7,367.77 L142.1,367.74 L142.5,367.72 L142.9,367.7 L143.3,367.68 L143.7,367.66 L144.1,367.64 L144.5,367.63 L144.9,367.62 L145.3,367.61 L145.7,367.6 L146.1,367.59 L146.5,367.59 L146.9,367.59 L147.3,367.59 L147.7,367.59 L148.1,367.6 L148.5,367.6 L148.9,367.61 L149.3,367.62 L149.7,367.62 L150.1,367.63 L150.5,367.64 L150.9,367.65 L151.3,367.66 L151.7,367.66 L152.1,367.67 L152.5,367.67 L152.9,367.67 L153.3,367.68 L153.7,367.67 L154.1,367.67 L154.5,367.67 L154.9,367.66 L155.3,367.66 L155.7,367.65 L156.1,367.64 L156.5,367.62 L156.9,367.61 L157.3,367.6 L157.7,367.58 L158.1,367.57 L158.5,367.55 L158.9,367.53 L159.3,367.52 L159.7,367.51 L160.1,367.49 L160.5,367.48 L160.9,367.47 L161.3,367.46 L161.7,367.46 L162.1,367.45 L162.5,367.45 L162.9,367.45 L163.3,367.46 L163.7,367.46 L164.1,367.48 L164.5,367.49 L164.9,367.51 L165.3,367.52 L165.7,367.55 L166.1,367.57 L166.5,367.6 L166.9,367.63 L167.3,367.66 L167.7,367.69 L168.1,367.73 L168.5,367.76 L168.9,367.8 L169.3,367.83 L169.7,367.87 L170.1,367.9 L170.5,367.94 L170.9,367.97 L171.3,368 L171.7,368.03 L172.1,368.05 L172.5,368.08 L172.9,368.1 L173.3,368.12 L173.7,368.14 L174.1,368.15 L174.5,368.16 L174.9,368.17 L175.3,368.17 L175.7,368.17 L176.1,368.17 L176.5,368.17 L176.9,368.16 L177.3,368.15 L177.7,368.14 L178.1,368.13 L178.5,368.11 L178.9,368.1 L179.3,368.08 L179.7,368.07 L180.1,368.05 L180.5,368.03 L180.9,368.02 L181.3,368 L181.7,367.99 L182.1,367.97 L182.5,367.96 L182.9,367.93 L183.3,367.9 L183.7,367.85 L184.1,367.76 L184.5,367.63 L184.9,367.46 L185.3,367.26 L185.7,367.07 L186.1,366.92 L186.5,366.87 L186.9,366.97 L187.3,367.26 L187.7,367.71 L188.1,368.23 L188.5,368.65 L188.9,368.78 L189.3,368.45 L189.7,367.62 L190.1,366.36 L190.5,364.81 L190.9,363.09 L191.3,361.25 L191.7,359.27 L192.1,357.09 L192.5,354.65 L192.9,351.92 L193.3,348.88 L193.7,345.54 L194.1,341.92 L194.5,338.07 L194.9,334.05 L195.3,329.94 L195.7,325.83 L196.1,321.82 L196.5,318.02 L196.9,314.53 L197.3,311.46 L197.7,308.91 L198.1,306.97 L198.5,305.69 L198.9,305.12 L199.3,305.21 L199.7,305.8 L200.1,306.87 L200.5,308.4 L200.9,310.34 L201.3,312.65 L201.7,315.29 L202.1,318.2 L202.5,321.31 L202.9,324.57 L203.3,327.92 L203.7,331.3 L204.1,334.66 L204.5,337.94 L204.9,341.12 L205.3,344.15 L205.7,347 L206.1,349.66 L206.5,352.1 L206.9,354.34 L207.3,356.35 L207.7,358.15 L208.1,359.75 L208.5,361.18 L208.9,362.47 L209.3,363.66 L209.7,364.8 L210.1,365.93 L210.5,367.04 L210.9,368.08 L211.3,368.93 L211.7,369.5 L212.1,369.7 L212.5,369.58 L212.9,369.23 L213.3,368.78 L213.7,368.35 L214.1,368 L214.5,367.76 L214.9,367.63 L215.3,367.57 L215.7,367.58 L216.1,367.63 L216.5,367.72 L216.9,367.82 L217.3,367.91 L217.7,368 L218.1,368.06 L218.5,368.11 L218.9,368.13 L219.3,368.15 L219.7,368.15 L220.1,368.15 L220.5,368.15 L220.9,368.15 L221.3,368.15 L221.7,368.15 L222.1,368.15 L222.5,368.15 L222.9,368.16 L223.3,368.16 L223.7,368.17 L224.1,368.18 L224.5,368.19 L224.9,368.2 L225.3,368.22 L225.7,368.23 L226.1,368.25 L226.5,368.26 L226.9,368.28 L227.3,368.29 L227.7,368.31 L228.1,368.32 L228.5,368.33 L228.9,368.34 L229.3,368.35 L229.7,368.36 L230.1,368.36 L230.5,368.37 L230.9,368.37 L231.3,368.36 L231.7,368.36 L232.1,368.35 L232.5,368.34 L232.9,368.33 L233.3,368.31 L233.7,368.29 L234.1,368.27 L234.5,368.25 L234.9,368.22 L235.3,368.19 L235.7,368.17 L236.1,368.14 L236.5,368.11 L236.9,368.07 L237.3,368.04 L237.7,368.01 L238.1,367.98 L238.5,367.95 L238.9,367.93 L239.3,367.9 L239.7,367.88 L240.1,367.85 L240.5,367.83 L240.9,367.82 L241.3,367.8 L241.7,367.79 L242.1,367.79 L242.5,367.78 L242.9,367.78 L243.3,367.78 L243.7,367.79 L244.1,367.8 L244.5,367.81 L244.9,367.82 L245.3,367.84 L245.7,367.86 L246.1,367.88 L246.5,367.9 L246.9,367.92 L247.3,367.94 L247.7,367.97 L248.1,367.99 L248.5,368.02 L248.9,368.04 L249.3,368.06 L249.7,368.09 L250.1,368.11 L250.5,368.13 L250.9,368.15 L251.3,368.16 L251.7,368.18 L252.1,368.19 L252.5,368.2 L252.9,368.21 L253.3,368.22 L253.7,368.22 L254.1,368.22 L254.5,368.23 L254.9,368.23 L255.3,368.22 L255.7,368.22 L256.1,368.22 L256.5,368.22 L256.9,368.21 L257.3,368.21 L257.7,368.21 L258.1,368.21 L258.5,368.2 L258.9,368.2 L259.3,368.21 L259.7,368.21 L260.1,368.21 L260.5,368.22 L260.9,368.23 L261.3,368.24 L261.7,368.25 L262.1,368.27 L262.5,368.28 L262.9,368.3 L263.3,368.32 L263.7,368.34 L264.1,368.36 L264.5,368.39 L264.9,368.41 L265.3,368.44 L265.7,368.46 L266.1,368.49 L266.5,368.51 L266.9,368.53 L267.3,368.56 L267.7,368.58 L268.1,368.6 L268.5,368.61 L268.9,368.63 L269.3,368.64 L269.7,368.65 L270.1,368.66 L270.5,368.66 L270.9,368.66 L271.3,368.66 L271.7,368.65 L272.1,368.64 L272.5,368.63 L272.9,368.62 L273.3,368.6 L273.7,368.58" stroke="#0000ff" stroke-width="1.7" fill="none"/>
<path d="M124.9,440.05 L125.3,440.08 L125.7,440.1 L126.1,440.12 L126.5,440.14 L126.9,440.16 L127.3,440.17 L127.7,440.18 L128.1,440.19 L128.5,440.19 L128.9,440.19 L129.3,440.19 L129.7,440.19 L130.1,440.18 L130.5,440.16 L130.9,440.15 L131.3,440.13 L131.7,440.11 L132.1,440.09 L132.5,440.06 L132.9,440.04 L133.3,440.01 L133.7,439.98 L134.1,439.95 L134.5,439.92 L134.9,439.89 L135.3,439.87 L135.7,439.84 L136.1,439.81 L136.5,439.78 L136.9,439.76 L137.3,439.74 L137.7,439.72 L138.1,439.7 L138.5,439.68 L138.9,439.67 L139.3,439.66 L139.7,439.65 L140.1,439.64 L140.5,439.64 L140.9,439.64 L141.3,439.63 L141.7,439.64 L142.1,439.64 L142.5,439.64 L142.9,439.65 L143.3,439.65 L143.7,439.66 L144.1,439.67 L144.5,439.67 L144.9,439.68 L145.3,439.68 L145.7,439.69 L146.1,439.69 L146.5,439.7 L146.9,439.7 L147.3,439.7 L147.7,439.69 L148.1,439.69 L148.5,439.68 L148.9,439.68 L149.3,439.67 L149.7,439.66 L150.1,439.64 L150.5,439.63 L150.9,439.62 L151.3,439.6 L151.7,439.58 L152.1,439.57 L152.5,439.55 L152.9,439.53 L153.3,439.52 L153.7,439.5 L154.1,439.49 L154.5,439.48 L154.9,439.47 L155.3,439.46 L155.7,439.45 L156.1,439.45 L156.5,439.45 L156.9,439.45 L157.3,439.46 L157.7,439.46 L158.1,439.48 L158.5,439.49 L158.9,439.51 L159.3,439.52 L159.7,439.55 L160.1,439.57 L160.5,439.6 L160.9,439.62 L161.3,439.65 L161.7,439.69 L162.1,439.72 L162.5,439.75 L162.9,439.78 L163.3,439.82 L163.7,439.85 L164.1,439.88 L164.5,439.91 L164.9,439.94 L165.3,439.97 L165.7,439.99 L166.1,440.01 L166.5,440.03 L166.9,440.05 L167.3,440.06 L167.7,440.08 L168.1,440.08 L168.5,440.09 L168.9,440.09 L169.3,440.09 L169.7,440.09 L170.1,440.08 L170.5,440.07 L170.9,440.06 L171.3,440.04 L171.7,440.03 L172.1,440.01 L172.5,439.99 L172.9,439.97 L173.3,439.95 L173.7,439.93 L174.1,439.91 L174.5,439.89 L174.9,439.87 L175.3,439.85 L175.7,439.84 L176.1,439.82 L176.5,439.81 L176.9,439.79 L177.3,439.78 L177.7,439.77 L178.1,439.77 L178.5,439.76 L178.9,439.76 L179.3,439.75 L179.7,439.75 L180.1,439.76 L180.5,439.76 L180.9,439.76 L181.3,439.76 L181.7,439.77 L182.1,439.77 L182.5,439.78 L182.9,439.78 L183.3,439.78 L183.7,439.78 L184.1,439.77 L184.5,439.75 L184.9,439.7 L185.3,439.61 L185.7,439.49 L186.1,439.31 L186.5,439.1 L186.9,438.9 L187.3,438.73 L187.7,438.67 L188.1,438.75 L188.5,439.02 L188.9,439.44 L189.3,439.94 L189.7,440.34 L190.1,440.45 L190.5,440.1 L190.9,439.26 L191.3,437.99 L191.7,436.44 L192.1,434.72 L192.5,432.9 L192.9,430.94 L193.3,428.8 L193.7,426.42 L194.1,423.76 L194.5,420.8 L194.9,417.54 L195.3,414.03 L195.7,410.3 L196.1,406.41 L196.5,402.43 L196.9,398.47 L197.3,394.6 L197.7,390.93 L198.1,387.58 L198.5,384.64 L198.9,382.21 L199.3,380.36 L199.7,379.16 L200.1,378.66 L200.5,378.81 L200.9,379.49 L201.3,380.67 L201.7,382.34 L202.1,384.43 L202.5,386.91 L202.9,389.72 L203.3,392.78 L203.7,396.04 L204.1,399.43 L204.5,402.88 L204.9,406.32 L205.3,409.71 L205.7,412.99 L206.1,416.13 L206.5,419.07 L206.9,421.82 L207.3,424.33 L207.7,426.61 L208.1,428.66 L208.5,430.48 L208.9,432.09 L209.3,433.51 L209.7,434.79 L210.1,435.98 L210.5,437.13 L210.9,438.25 L211.3,439.33 L211.7,440.28 L212.1,440.99 L212.5,441.36 L212.9,441.37 L213.3,441.08 L213.7,440.6 L214.1,440.06 L214.5,439.58 L214.9,439.19 L215.3,438.93 L215.7,438.78 L216.1,438.74 L216.5,438.78 L216.9,438.9 L217.3,439.05 L217.7,439.22 L218.1,439.39 L218.5,439.53 L218.9,439.64 L219.3,439.72 L219.7,439.77 L220.1,439.81 L220.5,439.84 L220.9,439.85 L221.3,439.87 L221.7,439.88 L222.1,439.89 L222.5,439.9 L222.9,439.9 L223.3,439.91 L223.7,439.91 L224.1,439.91 L224.5,439.91 L224.9,439.91 L225.3,439.9 L225.7,439.89 L226.1,439.88 L226.5,439.86 L226.9,439.84 L227.3,439.82 L227.7,439.8 L228.1,439.78 L228.5,439.75 L228.9,439.72 L229.3,439.69 L229.7,439.66 L230.1,439.63 L230.5,439.6 L230.9,439.56 L231.3,439.53 L231.7,439.5 L232.1,439.47 L232.5,439.44 L232.9,439.41 L233.3,439.38 L233.7,439.36 L234.1,439.34 L234.5,439.32 L234.9,439.3 L235.3,439.29 L235.7,439.28 L236.1,439.27 L236.5,439.27 L236.9,439.27 L237.3,439.27 L237.7,439.28 L238.1,439.28 L238.5,439.3 L238.9,439.31 L239.3,439.33 L239.7,439.34 L240.1,439.36 L240.5,439.39 L240.9,439.41 L241.3,439.43 L241.7,439.46 L242.1,439.48 L242.5,439.5 L242.9,439.52 L243.3,439.55 L243.7,439.57 L244.1,439.59 L244.5,439.6 L244.9,439.62 L245.3,439.63 L245.7,439.65 L246.1,439.66 L246.5,439.66 L246.9,439.67 L247.3,439.68 L247.7,439.68 L248.1,439.68 L248.5,439.68 L248.9,439.67 L249.3,439.67 L249.7,439.67 L250.1,439.66 L250.5,439.66 L250.9,439.65 L251.3,439.64 L251.7,439.64 L252.1,439.63 L252.5,439.63 L252.9,439.63 L253.3,439.63 L253.7,439.63 L254.1,439.63 L254.5,439.64 L254.9,439.64 L255.3,439.65 L255.7,439.66 L256.1,439.67 L256.5,439.68 L256.9,439.7 L257.3,439.72 L257.7,439.73 L258.1,439.75 L258.5,439.77 L258.9,439.79 L259.3,439.82 L259.7,439.84 L260.1,439.86 L260.5,439.88 L260.9,439.9 L261.3,439.91 L261.7,439.93 L262.1,439.94 L262.5,439.96 L262.9,439.97 L263.3,439.97 L263.7,439.98 L264.1,439.98 L264.5,439.98 L264.9,439.97 L265.3,439.96 L265.7,439.95 L266.1,439.94 L266.5,439.92 L266.9,439.9 L267.3,439.88 L267.7,439.85 L268.1,439.82 L268.5,439.79 L268.9,439.76 L269.3,439.73 L269.7,439.7 L270.1,439.66 L270.5,439.63 L270.9,439.6 L271.3,439.56 L271.7,439.53 L272.1,439.5 L272.5,439.47 L272.9,439.45 L273.3,439.42 L273.7,439.4" stroke="#ff0000" stroke-width="1.7" fill="none"/>
<path d="M124.9,498.24 L125.3,498.22 L125.7,498.2 L126.1,498.18 L126.5,498.15 L126.9,498.13 L127.3,498.1 L127.7,498.07 L128.1,498.04 L128.5,498.01 L128.9,497.99 L129.3,497.96 L129.7,497.93 L130.1,497.91 L130.5,497.88 L130.9,497.86 L131.3,497.84 L131.7,497.82 L132.1,497.81 L132.5,497.8 L132.9,497.79 L133.3,497.78 L133.7,497.77 L134.1,497.77 L134.5,497.77 L134.9,497.77 L135.3,497.77 L135.7,497.78 L136.1,497.78 L136.5,497.79 L136.9,497.8 L137.3,497.81 L137.7,497.82 L138.1,497.83 L138.5,497.84 L138.9,497.85 L139.3,497.85 L139.7,497.86 L140.1,497.87 L140.5,497.87 L140.9,497.88 L141.3,497.88 L141.7,497.88 L142.1,497.88 L142.5,497.87 L142.9,497.87 L143.3,497.86 L143.7,497.86 L144.1,497.85 L144.5,497.84 L144.9,497.83 L145.3,497.81 L145.7,497.8 L146.1,497.79 L146.5,497.78 L146.9,497.76 L147.3,497.75 L147.7,497.74 L148.1,497.73 L148.5,497.73 L148.9,497.72 L149.3,497.72 L149.7,497.71 L150.1,497.72 L150.5,497.72 L150.9,497.73 L151.3,497.73 L151.7,497.75 L152.1,497.76 L152.5,497.78 L152.9,497.8 L153.3,497.82 L153.7,497.85 L154.1,497.88 L154.5,497.91 L154.9,497.94 L155.3,497.97 L155.7,498 L156.1,498.04 L156.5,498.07 L156.9,498.11 L157.3,498.14 L157.7,498.18 L158.1,498.21 L158.5,498.24 L158.9,498.27 L159.3,498.3 L159.7,498.32 L160.1,498.34 L160.5,498.36 L160.9,498.38 L161.3,498.39 L161.7,498.4 L162.1,498.41 L162.5,498.42 L162.9,498.42 L163.3,498.41 L163.7,498.41 L164.1,498.4 L164.5,498.39 L164.9,498.38 L165.3,498.37 L165.7,498.35 L166.1,498.33 L166.5,498.31 L166.9,498.29 L167.3,498.27 L167.7,498.26 L168.1,498.24 L168.5,498.22 L168.9,498.2 L169.3,498.18 L169.7,498.16 L170.1,498.15 L170.5,498.14 L170.9,498.13 L171.3,498.12 L171.7,498.11 L172.1,498.1 L172.5,498.1 L172.9,498.1 L173.3,498.1 L173.7,498.1 L174.1,498.1 L174.5,498.11 L174.9,498.11 L175.3,498.12 L175.7,498.12 L176.1,498.13 L176.5,498.14 L176.9,498.14 L177.3,498.15 L177.7,498.16 L178.1,498.16 L178.5,498.16 L178.9,498.16 L179.3,498.16 L179.7,498.16 L180.1,498.16 L180.5,498.15 L180.9,498.14 L181.3,498.13 L181.7,498.12 L182.1,498.1 L182.5,498.09 L182.9,498.07 L183.3,498.05 L183.7,498.03 L184.1,498.01 L184.5,497.98 L184.9,497.96 L185.3,497.94 L185.7,497.91 L186.1,497.89 L186.5,497.86 L186.9,497.83 L187.3,497.81 L187.7,497.78 L188.1,497.74 L188.5,497.71 L188.9,497.7 L189.3,497.71 L189.7,497.77 L190.1,497.9 L190.5,498.07 L190.9,498.22 L191.3,498.24 L191.7,498.02 L192.1,497.52 L192.5,496.73 L192.9,495.72 L193.3,494.59 L193.7,493.35 L194.1,492.02 L194.5,490.56 L194.9,488.92 L195.3,487.08 L195.7,485.01 L196.1,482.72 L196.5,480.22 L196.9,477.54 L197.3,474.7 L197.7,471.76 L198.1,468.77 L198.5,465.79 L198.9,462.9 L199.3,460.18 L199.7,457.69 L200.1,455.51 L200.5,453.71 L200.9,452.34 L201.3,451.45 L201.7,451.06 L202.1,451.17 L202.5,451.71 L202.9,452.66 L203.3,453.99 L203.7,455.66 L204.1,457.65 L204.5,459.89 L204.9,462.34 L205.3,464.93 L205.7,467.62 L206.1,470.34 L206.5,473.05 L206.9,475.71 L207.3,478.27 L207.7,480.7 L208.1,482.97 L208.5,485.08 L208.9,486.99 L209.3,488.72 L209.7,490.27 L210.1,491.63 L210.5,492.84 L210.9,493.91 L211.3,494.87 L211.7,495.77 L212.1,496.63 L212.5,497.44 L212.9,498.17 L213.3,498.76 L213.7,499.15 L214.1,499.31 L214.5,499.27 L214.9,499.1 L215.3,498.89 L215.7,498.7 L216.1,498.57 L216.5,498.5 L216.9,498.47 L217.3,498.46 L217.7,498.47 L218.1,498.47 L218.5,498.48 L218.9,498.48 L219.3,498.48 L219.7,498.47 L220.1,498.46 L220.5,498.45 L220.9,498.43 L221.3,498.41 L221.7,498.39 L222.1,498.37 L222.5,498.34 L222.9,498.31 L223.3,498.29 L223.7,498.26 L224.1,498.23 L224.5,498.2 L224.9,498.17 L225.3,498.14 L225.7,498.11 L226.1,498.08 L226.5,498.05 L226.9,498.03 L227.3,498.01 L227.7,497.99 L228.1,497.97 L228.5,497.96 L228.9,497.95 L229.3,497.94 L229.7,497.93 L230.1,497.93 L230.5,497.93 L230.9,497.94 L231.3,497.95 L231.7,497.96 L232.1,497.97 L232.5,497.99 L232.9,498.01 L233.3,498.03 L233.7,498.05 L234.1,498.08 L234.5,498.1 L234.9,498.13 L235.3,498.16 L235.7,498.18 L236.1,498.21 L236.5,498.24 L236.9,498.26 L237.3,498.29 L237.7,498.31 L238.1,498.33 L238.5,498.35 L238.9,498.37 L239.3,498.39 L239.7,498.4 L240.1,498.41 L240.5,498.42 L240.9,498.43 L241.3,498.44 L241.7,498.44 L242.1,498.44 L242.5,498.44 L242.9,498.44 L243.3,498.44 L243.7,498.44 L244.1,498.44 L244.5,498.43 L244.9,498.43 L245.3,498.42 L245.7,498.42 L246.1,498.42 L246.5,498.42 L246.9,498.42 L247.3,498.42 L247.7,498.42 L248.1,498.43 L248.5,498.43 L248.9,498.44 L249.3,498.45 L249.7,498.46 L250.1,498.47 L250.5,498.49 L250.9,498.51 L251.3,498.52 L251.7,498.54 L252.1,498.56 L252.5,498.59 L252.9,498.61 L253.3,498.63 L253.7,498.65 L254.1,498.67 L254.5,498.69 L254.9,498.71 L255.3,498.73 L255.7,498.74 L256.1,498.76 L256.5,498.77 L256.9,498.78 L257.3,498.78 L257.7,498.79 L258.1,498.79 L258.5,498.78 L258.9,498.78 L259.3,498.77 L259.7,498.76 L260.1,498.74 L260.5,498.72 L260.9,498.7 L261.3,498.68 L261.7,498.66 L262.1,498.63 L262.5,498.6 L262.9,498.57 L263.3,498.54 L263.7,498.51 L264.1,498.48 L264.5,498.44 L264.9,498.41 L265.3,498.38 L265.7,498.35 L266.1,498.33 L266.5,498.3 L266.9,498.28 L267.3,498.25 L267.7,498.24 L268.1,498.22 L268.5,498.21 L268.9,498.19 L269.3,498.19 L269.7,498.18 L270.1,498.18 L270.5,498.18 L270.9,498.19 L271.3,498.19 L271.7,498.2 L272.1,498.21 L272.5,498.22 L272.9,498.24 L273.3,498.25 L273.7,498.27" stroke="#000" stroke-width="1.7" fill="none"/>
<text x="223" y="359.6" class="xl">x = 0.1</text>
<text x="223.5" y="428.4" class="xl">x = 0.2</text>
<text x="223.5" y="485.4" class="xl">x = 0.3</text>
<text transform="translate(218.5,312.9) rotate(-90)" style="font-size:11.8px">(311)</text>
</svg>
</body></html>
